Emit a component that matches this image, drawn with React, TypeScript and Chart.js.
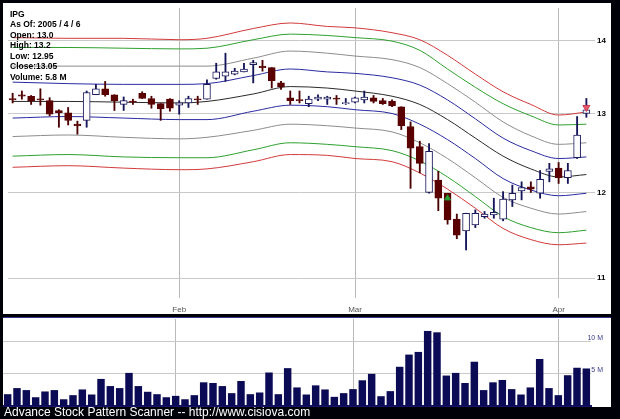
import React, { useEffect, useRef } from "react";
import { Chart, registerables } from "chart.js";

Chart.register(...registerables);

const FONT = "'Liberation Sans', Arial, Helvetica, sans-serif";

// trading days (2005), MM-DD
const days = [
  "01-05","01-06","01-07","01-10","01-11","01-12","01-13","01-14","01-18","01-19",
  "01-20","01-21","01-24","01-25","01-26","01-27","01-28","01-31","02-01","02-02",
  "02-03","02-04","02-07","02-08","02-09","02-10","02-11","02-14","02-15","02-16",
  "02-17","02-18","02-22","02-23","02-24","02-25","02-28","03-01","03-02","03-03",
  "03-04","03-07","03-08","03-09","03-10","03-11","03-14","03-15","03-16","03-17",
  "03-18","03-21","03-22","03-23","03-24","03-28","03-29","03-30","03-31","04-01",
  "04-04","04-05","04-06",
];
const monthNames = ["Jan", "Feb", "Mar", "Apr"];

const openP = [
  13.20,13.25,13.23,13.19,13.17,13.04,13.01,12.86,12.91,13.25,
  13.33,13.25,13.12,13.16,13.27,13.20,13.13,13.19,13.11,13.14,
  13.19,13.19,13.47,13.50,13.53,13.56,13.66,13.64,13.62,13.41,
  13.21,13.18,13.13,13.19,13.19,13.20,13.13,13.15,13.18,13.21,
  13.17,13.16,13.09,12.83,12.57,12.00,12.15,11.99,11.68,11.54,
  11.61,11.71,11.73,11.68,11.91,12.02,12.07,11.99,12.26,12.30,
  12.18,12.43,13.00,
];
const highP = [
  13.27,13.30,13.24,13.33,13.21,13.05,13.08,12.90,13.30,13.39,
  13.43,13.25,13.22,13.19,13.29,13.23,13.13,13.20,13.17,13.23,
  13.23,13.45,13.68,13.82,13.61,13.68,13.72,13.72,13.62,13.43,
  13.30,13.30,13.23,13.25,13.23,13.24,13.20,13.22,13.30,13.24,
  13.20,13.18,13.09,12.89,12.64,12.61,12.26,11.99,11.74,11.75,
  11.79,11.77,11.93,12.01,12.09,12.13,12.13,12.27,12.36,12.37,
  12.36,12.96,13.20,
];
const lowP = [
  13.14,13.19,13.12,13.11,12.97,12.82,12.85,12.73,12.82,13.25,
  13.23,13.04,13.04,13.12,13.20,13.07,12.91,13.03,12.99,13.08,
  13.12,13.19,13.46,13.43,13.52,13.56,13.41,13.57,13.34,13.32,
  13.12,13.14,13.09,13.17,13.12,13.12,13.12,13.14,13.14,13.14,
  13.12,13.09,12.79,12.05,12.24,11.99,11.78,11.62,11.45,11.32,
  11.58,11.69,11.69,11.66,11.83,11.91,12.00,11.93,12.13,12.11,
  12.11,12.42,12.95,
];
const closeP = [
  13.18,13.23,13.17,13.18,12.99,13.01,12.91,12.84,13.28,13.33,
  13.25,13.17,13.17,13.15,13.20,13.12,13.06,13.07,13.14,13.20,
  13.18,13.39,13.56,13.56,13.57,13.60,13.69,13.62,13.44,13.36,
  13.17,13.17,13.19,13.22,13.22,13.19,13.14,13.21,13.22,13.16,
  13.13,13.10,12.84,12.55,12.36,12.51,11.93,11.67,11.49,11.75,
  11.75,11.74,11.76,11.92,11.99,12.06,12.04,12.16,12.29,12.18,
  12.27,12.72,13.05,
];
// volume in millions
const volumeM = [
  1.82,2.76,2.45,1.35,2.24,2.45,1.04,1.67,2.55,1.77,
  4.17,3.07,2.76,5.10,3.07,2.19,1.82,1.35,1.56,1.04,
  1.67,3.65,3.54,3.07,1.98,3.85,1.82,2.08,5.16,1.82,
  5.83,2.86,1.77,3.18,2.55,1.41,1.98,2.60,3.96,4.95,
  1.51,2.29,6.04,7.92,8.33,11.56,11.35,4.69,5.10,3.54,
  6.82,2.45,3.65,4.01,2.60,1.77,2.86,7.24,2.76,1.67,
  4.74,5.89,5.78,
];

const priceTicks = [11, 12, 13, 14];
const volumeTicks = [5, 10];

// band curves, read at these trading-day indices
const bandDays = [0, 6, 12, 18, 21, 26, 30, 34, 37, 41, 44, 47, 50, 53, 56, 59, 62];
const upperRed = [14.04,14.03,14.03,14.01,14.03,14.17,14.25,14.20,14.18,14.11,14.01,13.79,13.53,13.29,13.12,12.98,13.02];
const upperGreen = [13.90,13.90,13.89,13.88,13.89,14.01,14.09,14.07,14.04,13.99,13.86,13.60,13.35,13.13,12.97,12.85,12.86];
const upperGray = [13.64,13.64,13.64,13.64,13.64,13.75,13.85,13.82,13.78,13.73,13.62,13.40,13.15,12.89,12.71,12.60,12.62];
const upperBlue = [13.42,13.40,13.39,13.39,13.40,13.51,13.60,13.56,13.54,13.48,13.38,13.18,12.93,12.68,12.52,12.42,12.44];
const midLine = [13.16,13.16,13.15,13.14,13.16,13.26,13.36,13.34,13.30,13.23,13.12,12.92,12.68,12.45,12.29,12.19,12.22];
const lowerBlue = [12.94,12.96,12.94,12.92,12.92,13.03,13.11,13.09,13.05,13.00,12.86,12.66,12.42,12.17,12.03,11.96,11.99];
const lowerGray = [12.70,12.72,12.69,12.67,12.69,12.78,12.86,12.84,12.81,12.76,12.62,12.42,12.18,11.94,11.81,11.74,11.77];
const lowerGreen = [12.45,12.47,12.44,12.43,12.43,12.53,12.62,12.60,12.57,12.52,12.39,12.19,11.95,11.71,11.58,11.52,11.55];
const lowerRed = [12.31,12.33,12.30,12.28,12.29,12.38,12.47,12.46,12.42,12.38,12.24,12.04,11.81,11.57,11.44,11.38,11.40];

const buySignal = { day: 47, price: 11.93 };
const sellSignal = { day: 62, price: 13.08 };

const infoLines = [
  "IPG",
  "As Of: 2005 / 4 / 6",
  "Open: 13.0",
  "High: 13.2",
  "Low: 12.95",
  "Close:13.05",
  "Volume: 5.8 M",
];
const footerText = "Advance Stock Pattern Scanner -- http://www.cisiova.com";

const monthLabel = days.map((d, i) =>
  i > 0 && d.slice(0, 2) !== days[i - 1].slice(0, 2)
    ? monthNames[parseInt(d.slice(0, 2), 10) - 1]
    : ""
);
const monthGridColor = (c: any) => (monthLabel[c.index] ? "#b9b9b9" : "rgba(0,0,0,0)");

export default function App() {
  const mainRef = useRef<HTMLCanvasElement>(null);
  const volRef = useRef<HTMLCanvasElement>(null);

  useEffect(() => {
    const isUp = closeP.map((c, i) => c >= openP[i]);
    const bandLine = (vals: number[], color: string) => ({
      type: "line" as const,
      data: bandDays.map((d, j) => ({ x: days[d], y: vals[j] })),
      borderColor: color,
      borderWidth: 1,
      pointRadius: 0,
      cubicInterpolationMode: "monotone" as const,
      fill: false,
      order: 10,
    });

    const main = new Chart(mainRef.current!, {
      type: "bar",
      data: {
        labels: days,
        datasets: [
          bandLine(upperRed, "#d23a3a"),
          bandLine(upperGreen, "#2ea02e"),
          bandLine(upperGray, "#8c8c8c"),
          bandLine(upperBlue, "#2a2aa0"),
          bandLine(midLine, "#2a2a2a"),
          bandLine(lowerBlue, "#2a2aa0"),
          bandLine(lowerGray, "#8c8c8c"),
          bandLine(lowerGreen, "#2ea02e"),
          bandLine(lowerRed, "#d23a3a"),
          {
            type: "bar",
            data: lowP.map((l, i) => [l, highP[i]]),
            backgroundColor: isUp.map((u) => (u ? "#15155a" : "#4a0000")),
            borderWidth: 0,
            barThickness: 1.2,
            grouped: false,
            order: 5,
          } as any,
          {
            type: "bar",
            data: openP.map((o, i) => [o, closeP[i]]),
            backgroundColor: isUp.map((u) => (u ? "#ffffff" : "#5a0000")),
            borderColor: isUp.map((u) => (u ? "#1a1a5c" : "#5a0000")),
            borderWidth: 1,
            borderSkipped: false,
            barThickness: 7,
            minBarLength: 1,
            grouped: false,
            order: 3,
          } as any,
          {
            type: "line",
            showLine: false,
            data: [{ x: days[buySignal.day], y: buySignal.price }],
            pointStyle: "triangle",
            pointRadius: 3.6,
            pointBackgroundColor: "#2faa3a",
            pointBorderColor: "#23862c",
            pointBorderWidth: 1,
            order: 0,
          } as any,
          {
            type: "line",
            showLine: false,
            data: [{ x: days[sellSignal.day], y: sellSignal.price }],
            pointStyle: "triangle",
            pointRotation: 180,
            pointRadius: 4,
            pointBackgroundColor: "#ea5a70",
            pointBorderColor: "#c83a50",
            pointBorderWidth: 1,
            order: 0,
          } as any,
        ],
      },
      options: {
        responsive: false,
        animation: false,
        devicePixelRatio: 1,
        layout: { padding: { top: 1 } },
        plugins: { legend: { display: false }, tooltip: { enabled: false } },
        scales: {
          x: {
            type: "category",
            offset: true,
            grid: { offset: false, color: monthGridColor, drawTicks: false },
            border: { display: false },
            ticks: {
              autoSkip: false,
              maxRotation: 0,
              padding: 7,
              color: "#555555",
              font: { size: 8, family: FONT },
              callback: (_v: any, i: number) => monthLabel[i],
            },
            afterFit: (s: any) => {
              s.height = 16;
              s.paddingLeft = 0;
              s.paddingRight = 0;
            },
          },
          y: {
            type: "logarithmic",
            position: "right",
            min: 10.782,
            max: 14.468,
            afterBuildTicks: (s: any) => {
              s.ticks = priceTicks.map((v) => ({ value: v }));
            },
            afterFit: (s: any) => {
              s.width = 20;
              s.paddingTop = 0;
              s.paddingBottom = 0;
            },
            grid: { color: "#c9c9c9", tickLength: 4 },
            border: { display: false },
            ticks: {
              padding: 2,
              color: "#000000",
              font: { size: 8, weight: "bold", family: FONT },
              callback: (v: any) => String(v),
            },
          },
        },
      } as any,
    });

    const vol = new Chart(volRef.current!, {
      type: "bar",
      data: {
        labels: days,
        datasets: [
          {
            data: volumeM,
            backgroundColor: "#0b0b55",
            barPercentage: 0.8,
            categoryPercentage: 1,
          },
        ],
      },
      options: {
        responsive: false,
        animation: false,
        devicePixelRatio: 1,
        layout: { padding: { top: 1, right: 8, bottom: 1 } },
        plugins: { legend: { display: false }, tooltip: { enabled: false } },
        scales: {
          x: {
            type: "category",
            offset: true,
            grid: { offset: false, color: monthGridColor, drawTicks: false },
            ticks: { display: false },
            border: { display: true, color: "#14146a", width: 2 },
            afterFit: (s: any) => {
              s.height = 0;
              s.paddingLeft = 0;
              s.paddingRight = 0;
            },
          },
          y: {
            position: "right",
            min: 0,
            max: 13.4,
            afterBuildTicks: (s: any) => {
              s.ticks = volumeTicks.map((v) => ({ value: v }));
            },
            afterFit: (s: any) => {
              s.width = 12;
              s.paddingTop = 0;
              s.paddingBottom = 0;
              s._computeLabelArea = () => undefined;
            },
            grid: { color: "#c9c9c9", drawTicks: false },
            border: { display: false },
            ticks: {
              crossAlign: "far",
              labelOffset: -3,
              color: "#3a3a90",
              font: { size: 7, family: FONT },
              callback: (v: any) => `${v} M`,
            },
          },
        },
      } as any,
    });

    return () => {
      main.destroy();
      vol.destroy();
    };
  }, []);

  return (
    <div
      style={{
        position: "absolute",
        left: 0,
        top: 0,
        width: 620,
        height: 419,
        background: "#000008",
        overflow: "hidden",
      }}
    >
      <canvas
        ref={mainRef}
        width={608}
        height={311}
        style={{ position: "absolute", left: 3, top: 3, width: 608, height: 311, background: "#ffffff" }}
      />
      <div style={{ position: "absolute", left: 3, top: 317, width: 608, height: 1, background: "#34348a" }} />
      <canvas
        ref={volRef}
        width={608}
        height={89}
        style={{ position: "absolute", left: 3, top: 318, width: 608, height: 89, background: "#ffffff" }}
      />
      <div
        style={{
          position: "absolute",
          left: 10,
          top: 9,
          fontFamily: FONT,
          fontWeight: "bold",
          fontSize: "8.5px",
          lineHeight: "10.45px",
          color: "#000",
          whiteSpace: "pre",
        }}
      >
        {infoLines.map((t) => (
          <div key={t}>{t}</div>
        ))}
      </div>
      <div
        style={{
          position: "absolute",
          left: 4,
          top: 406,
          fontFamily: FONT,
          fontSize: "12px",
          lineHeight: "12px",
          color: "#ffffff",
          whiteSpace: "nowrap",
        }}
      >
        {footerText}
      </div>
    </div>
  );
}
